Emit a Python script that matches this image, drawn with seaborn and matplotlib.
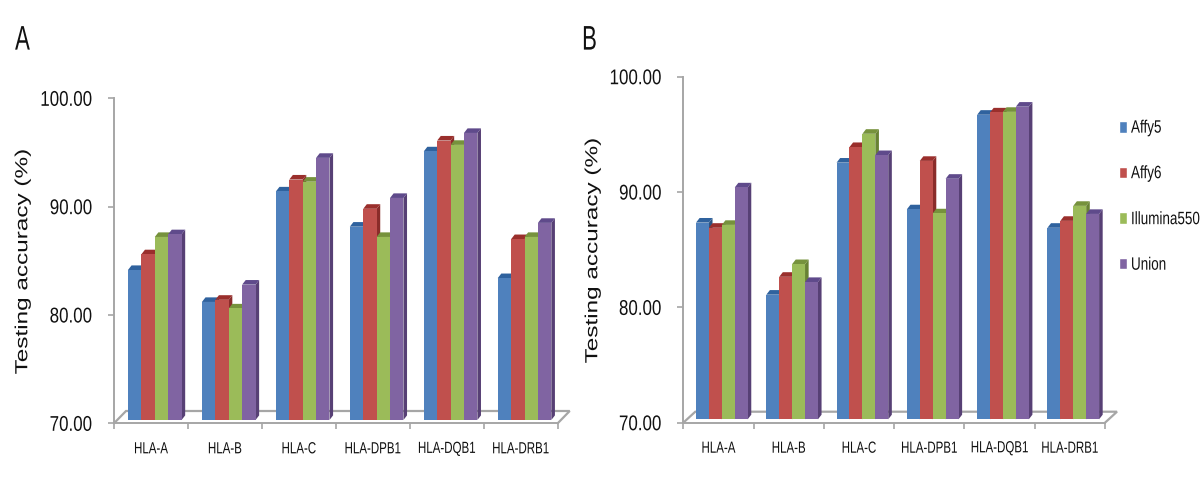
import matplotlib
matplotlib.use("Agg")
import matplotlib.pyplot as plt
from matplotlib.patches import Polygon
from matplotlib.patheffects import AbstractPathEffect
from matplotlib.transforms import Affine2D
import pandas as pd
import seaborn as sns

loci = ["HLA-A", "HLA-B", "HLA-C", "HLA-DPB1", "HLA-DQB1", "HLA-DRB1"]
platforms = ["Affy5", "Affy6", "Illumina550", "Union"]

a_affy5 = [84.15, 81.2, 91.4, 88.15, 95.1, 83.4]
a_affy6 = [85.6, 81.4, 92.5, 89.8, 96.1, 87.0]
a_illumina = [87.2, 80.6, 92.3, 87.2, 95.7, 87.2]
a_union = [87.45, 82.8, 94.5, 90.8, 96.8, 88.5]

b_affy5 = [87.35, 81.1, 92.55, 88.5, 96.7, 86.9]
b_affy6 = [86.9, 82.65, 93.9, 92.7, 96.9, 87.5]
b_illumina = [87.15, 83.75, 95.05, 88.15, 96.95, 88.8]
b_union = [90.4, 82.2, 93.2, 91.15, 97.4, 88.1]

front_colors = ["#4F81BD", "#C0504D", "#9BBB59", "#8064A2"]
top_colors = ["#2F629E", "#9A2F2C", "#76923C", "#5F4A8B"]
side_colors = ["#2C5482", "#8A2C2A", "#688233", "#574075"]
GRID = "#A6A6A6"
INK = "#111111"
W, H = 1200, 478


class Stretch(AbstractPathEffect):
    """Stretch glyphs across the text direction, as in the squeezed source image."""

    def __init__(self, factor):
        super().__init__()
        self.factor = factor

    def draw_path(self, renderer, gc, tpath, affine, rgbFace=None):
        ext = tpath.get_extents()
        cy = (ext.y0 + ext.y1) / 2
        stretch = Affine2D().translate(0, -cy).scale(1, self.factor).translate(0, cy)
        renderer.draw_path(gc, tpath, stretch + affine, rgbFace)


sns.set_theme(style="white")
plt.rcParams["font.family"] = ["Liberation Sans", "DejaVu Sans"]
plt.rcParams["text.color"] = INK


def frame(series):
    rows = []
    for name, values in zip(platforms, series):
        for locus, value in zip(loci, values):
            rows.append({"locus": locus, "platform": name, "accuracy": value})
    return pd.DataFrame(rows)


def panel(fig, series, left, right, y100, y70, base_px, floor_dy, width, shift, letter, letter_x, label_x, label_y, legend):
    ax = fig.add_axes([left / W, 1 - y70 / H, (right - left) / W, (y70 - y100) / H])
    sns.barplot(data=frame(series), x="locus", y="accuracy", hue="platform", hue_order=platforms,
                palette=front_colors, saturation=1, width=width, gap=0, ax=ax, legend=legend)
    ax.set_xlim(-0.5, 5.5)
    ax.set_ylim(70, 100)
    cat_px = (right - left) / 6
    unit_px = (y70 - y100) / 30
    dx, dy = 3.6 / cat_px, 4.6 / unit_px
    base = 70 + (y70 - base_px) / unit_px
    off = shift / cat_px

    items = []
    for cont, top_c, side_c in zip(ax.containers, top_colors, side_colors):
        for bar in cont:
            items.append((bar, top_c, side_c))
    for bar, top_c, side_c in sorted(items, key=lambda t: t[0].get_x()):
        value = bar.get_y() + bar.get_height()
        bar.set_x(bar.get_x() + off)
        bar.set_y(base)
        bar.set_height(value - base)
        bar.set_zorder(4)
        bar.set_linewidth(0)
        x0, x1 = bar.get_x(), bar.get_x() + bar.get_width()
        ax.add_patch(Polygon([(x1, value), (x1 + dx, value + dy), (x1 + dx, base + dy), (x1, base)],
                             facecolor=side_c, edgecolor="none", zorder=3, clip_on=False))
        ax.add_patch(Polygon([(x0, value), (x0 + dx, value + dy), (x1 + dx, value + dy), (x1, value)],
                             facecolor=top_c, edgecolor="none", zorder=3, clip_on=False))

    fx = (12 / cat_px)
    fy = floor_dy / unit_px
    ax.plot([-0.5, -0.5 + fx, 5.5 + fx, 5.5], [70, 70 + fy, 70 + fy, 70], color=GRID, lw=1.6,
            clip_on=False, zorder=1, solid_joinstyle="miter")

    sns.despine(ax=ax, top=True, right=True)
    for s in ("left", "bottom"):
        ax.spines[s].set_color(GRID)
        ax.spines[s].set_linewidth(1.4)
    ax.set_yticks([70, 80, 90, 100], ["70.00", "80.00", "90.00", "100.00"])
    ax.set_xticks([i - 0.5 for i in range(7)], [""] * 7)
    ax.set_xticks(range(6), loci, minor=True)
    ax.tick_params(axis="y", which="major", left=True, length=4, width=1.2, color=GRID, labelsize=12.2, pad=12,
                   labelcolor=INK)
    ax.tick_params(axis="x", which="major", bottom=True, length=4, width=1.2, color=GRID)
    ax.tick_params(axis="x", which="minor", bottom=False, length=0, labelsize=8.3, pad=14, labelcolor=INK)
    for t in ax.get_yticklabels():
        t.set_path_effects([Stretch(1.26)])
    for t in ax.get_xticklabels(minor=True):
        t.set_path_effects([Stretch(1.4)])
    ax.set_xlabel("")
    ax.set_ylabel("Testing accuracy (%)", fontsize=17.5, color=INK)
    ax.yaxis.label.set_path_effects([Stretch(0.72)])
    ax.yaxis.set_label_coords(label_x / W, 1 - label_y / H, transform=fig.transFigure)
    t = fig.text(letter_x / W, 1 - 40 / H, letter, fontsize=16, color=INK, ha="center", va="center")
    t.set_path_effects([Stretch(1.54)])
    return ax


fig = plt.figure(figsize=(W / 100, H / 100), dpi=100)
panel(fig, [a_affy5, a_affy6, a_illumina, a_union], 114, 557.7, 98.3, 423.3, 420, 12.3, 0.725, 3.8,
      "A", 22.5, 34, 262, False)
axb = panel(fig, [b_affy5, b_affy6, b_illumina, b_union], 683.3, 1105, 76.7, 422.7, 419.3, 11, 0.735, 3.4,
            "B", 589.5, 604, 251, True)
handles, labels = axb.get_legend_handles_labels()
leg = axb.legend(handles, labels, loc="upper left", bbox_to_anchor=(1119 / W, 1 - 121 / H),
                 bbox_transform=fig.transFigure, frameon=False, fontsize=9.7, labelspacing=2.38,
                 handlelength=0.59, handleheight=0.96, handletextpad=0.3, borderpad=0, borderaxespad=0)
for t in leg.get_texts():
    t.set_path_effects([Stretch(1.33)])
fig.savefig("out.png", dpi=100, facecolor="white")
